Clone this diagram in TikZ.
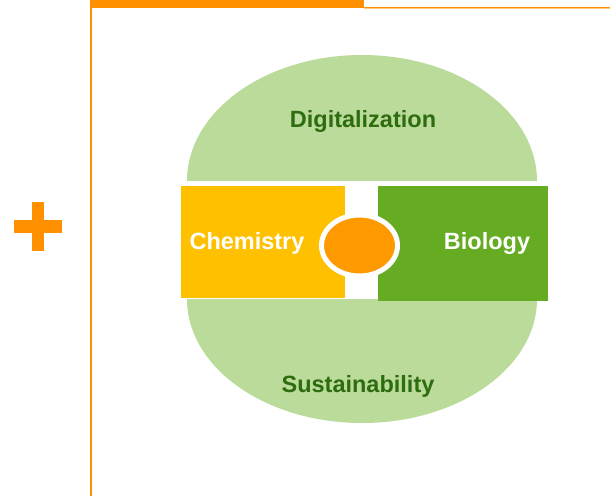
\documentclass[tikz,border=0pt]{standalone}
\usepackage{fontspec}
\setmainfont{Liberation Sans}
\usepackage{xcolor}
\usetikzlibrary{positioning,shapes.geometric}
\definecolor{barorange}{RGB}{255,144,0}
\definecolor{paleorange}{RGB}{255,200,120}
\definecolor{leafgreen}{RGB}{187,219,155}
\definecolor{chemyellow}{RGB}{255,192,0}
\definecolor{biogreen}{RGB}{102,172,34}
\definecolor{hubgreen}{RGB}{46,108,16}
\definecolor{hubcore}{RGB}{255,153,0}

\begin{document}
\begin{tikzpicture}[
    x=1pt, y=1pt,
    label/.style={font=\bfseries\fontsize{23.5}{26}\selectfont, inner sep=0pt},
    halflabel/.style={label, text=hubgreen},
    boxlabel/.style={label, text=white}
  ]
    \useasboundingbox (0,0) rectangle (610,496);
    % frame
    \fill[barorange] (90,488) rectangle (364,496);
    \draw[paleorange, line width=2pt] (364,487.5) -- (610,487.5);
    \draw[barorange, line width=1pt] (364,488) -- (610,488);
    \draw[barorange, line width=2pt] (91,0) -- (91,496);
    % plus sign
    \fill[barorange] (14,263) rectangle (62,276);
    \fill[barorange] (32,245) rectangle (44,294);
    % half ellipses
    \fill[leafgreen] (187,315) arc[start angle=180, end angle=0, x radius=175, y radius=126] -- cycle;
    \fill[leafgreen] (187,197) arc[start angle=180, end angle=360, x radius=175, y radius=124] -- cycle;
    % boxes
    \fill[chemyellow] (181,198) rectangle (345,310);
    \fill[biogreen] (378,195) rectangle (548,310);
    \node[ellipse, fill=hubcore, draw=white, line width=5pt, minimum width=76pt, minimum height=61pt, inner sep=0pt] (core) at (359.5,250.5) {};
    % texts
    \node[halflabel] (digital) at (363,375) {Digitalization};
    \node[halflabel] (sustain) at (358,110) {Sustainability};
    \node[boxlabel] (chem) at (247,253) {Chemistry};
    \node[boxlabel] (bio) at (487,253) {Biology};
  \end{tikzpicture}
\end{document}
